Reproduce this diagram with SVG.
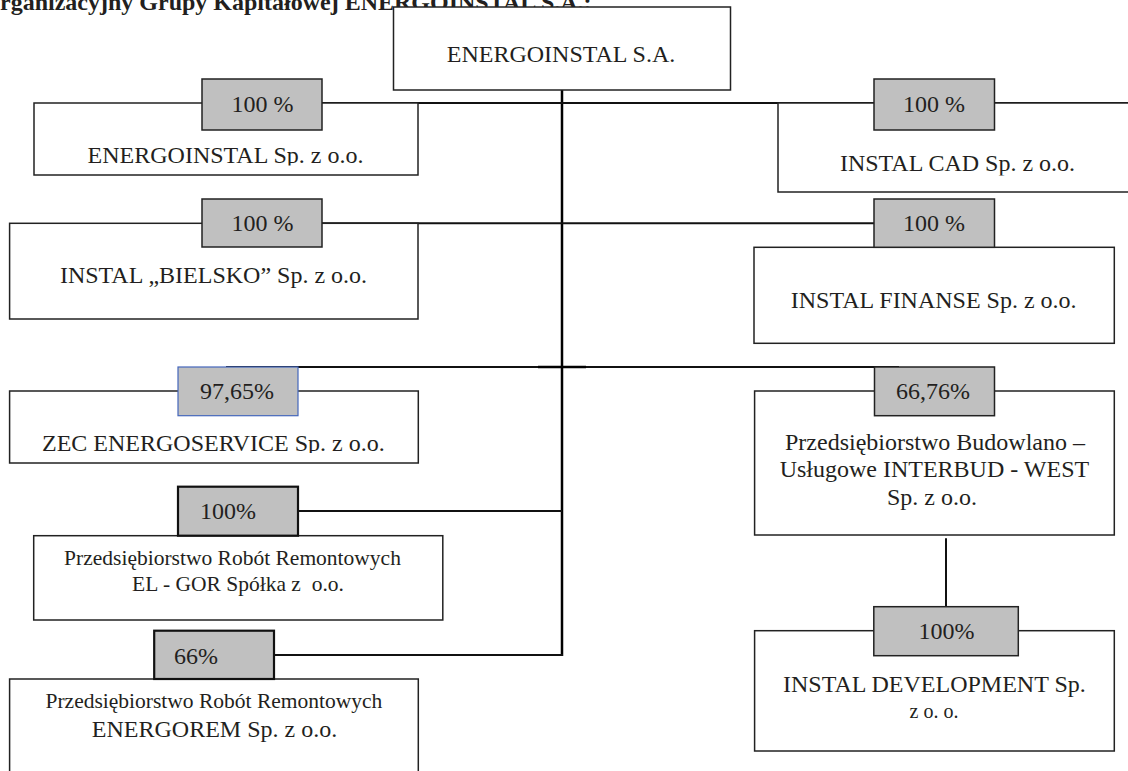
<svg xmlns="http://www.w3.org/2000/svg" width="1128" height="771" viewBox="0 0 1128 771">
<style>
  text { font-family: "Liberation Serif", "Times New Roman", serif; fill: #231f20; }
  .t24 { font-size: 24px; }
  .t22 { font-size: 21.5px; }
  .t20 { font-size: 20px; }
  .c { text-anchor: middle; }
  .title { font-size: 24px; font-weight: bold; }
  .box { fill: #ffffff; stroke: #222; stroke-width: 1.5; }
  .lab { fill: #c0c0c0; stroke: #222; stroke-width: 1.5; }
  .labB { fill: #c0c0c0; stroke: #4466bb; stroke-width: 1.2; }
  .labT { fill: #c0c0c0; stroke: #111; stroke-width: 2.2; }
  .ln { stroke: #111; stroke-width: 2; fill: none; }
  .lnT { stroke: #000; stroke-width: 2.5; fill: none; }
</style>
<defs>
  <clipPath id="clip1"><rect x="34" y="103" width="384" height="62.5"/></clipPath>
  <clipPath id="clip2"><rect x="778" y="103" width="350" height="72.5"/></clipPath>
  <clipPath id="clip3"><rect x="10" y="391" width="408" height="62"/></clipPath>
</defs>
<rect x="0" y="0" width="1128" height="771" fill="#ffffff"/>

<text class="title" x="0" y="10">rganizacyjny Grupy Kapitałowej ENERGOINSTAL S.A.:</text>

<g id="connectors">
  <line class="lnT" x1="562" y1="90" x2="562" y2="656"/>
  <line class="ln" x1="322" y1="103" x2="1128" y2="103"/>
  <line class="ln" x1="322" y1="223.3" x2="874" y2="223.3"/>
  <line class="ln" x1="226" y1="367" x2="899" y2="367"/>
  <line class="lnT" x1="538" y1="367" x2="586" y2="367"/>
  <line class="ln" x1="298" y1="511" x2="562" y2="511"/>
  <line class="ln" x1="274" y1="655" x2="563" y2="655"/>
  <line class="ln" x1="946" y1="538.3" x2="946" y2="610"/>
</g>

<g id="node-energoinstal-sa">
  <rect class="box" x="393.5" y="7" width="337" height="83"/>
  <text class="t24 c" x="561" y="62">ENERGOINSTAL S.A.</text>
</g>

<g id="node-energoinstal-spzoo">
  <rect class="box" x="34" y="103" width="384" height="72"/>
  <text class="t24 c" x="225.5" y="163" clip-path="url(#clip1)">ENERGOINSTAL Sp. z o.o.</text>
  <rect class="lab" x="202" y="79" width="120" height="51"/>
  <text class="t24 c" x="262.5" y="111.5">100 %</text>
</g>

<g id="node-instal-cad">
  <rect class="box" x="778" y="103" width="360" height="89"/>
  <text class="t24 c" x="957.5" y="170.7" clip-path="url(#clip2)">INSTAL CAD Sp. z o.o.</text>
  <rect class="lab" x="874" y="79" width="120.5" height="51"/>
  <text class="t24 c" x="934" y="111.5">100 %</text>
</g>

<g id="node-instal-bielsko">
  <rect class="box" x="9.6" y="223.3" width="408.4" height="95.7"/>
  <text class="t24 c" x="213.5" y="283.3">INSTAL „BIELSKO” Sp. z o.o.</text>
  <rect class="lab" x="202" y="199" width="120" height="48"/>
  <text class="t24 c" x="262.5" y="231">100 %</text>
</g>

<g id="node-instal-finanse">
  <rect class="box" x="754" y="247.3" width="360.3" height="96"/>
  <text class="t24 c" x="933.7" y="308">INSTAL FINANSE Sp. z o.o.</text>
  <rect class="lab" x="874" y="199" width="120.5" height="48.3"/>
  <text class="t24 c" x="934" y="231">100 %</text>
</g>

<g id="node-zec-energoservice">
  <rect class="box" x="9.6" y="391" width="408.7" height="72"/>
  <text class="t24 c" x="213.4" y="450.7" clip-path="url(#clip3)">ZEC ENERGOSERVICE Sp. z o.o.</text>
  <rect class="labB" x="178" y="367" width="120" height="48.7"/>
  <text class="t24 c" x="237" y="399">97,65%</text>
</g>

<g id="node-interbud-west">
  <rect class="box" x="754.6" y="391" width="359.7" height="144"/>
  <text class="t24 c" x="935" y="450">Przedsiębiorstwo Budowlano –</text>
  <text class="t24 c" x="934.4" y="476.7">Usługowe INTERBUD - WEST</text>
  <text class="t24 c" x="932" y="505">Sp. z o.o.</text>
  <rect class="lab" x="874.5" y="367" width="120" height="48.7"/>
  <text class="t24 c" x="933" y="399">66,76%</text>
</g>

<g id="node-el-gor">
  <rect class="box" x="33.7" y="535.7" width="409.1" height="84.3"/>
  <text class="t22 c" x="232.5" y="565">Przedsiębiorstwo Robót Remontowych</text>
  <text class="t22 c" x="238" y="591" xml:space="preserve">EL - GOR Spółka z  o.o.</text>
  <rect class="labT" x="178" y="486.7" width="120" height="49"/>
  <text class="t24" x="200" y="519">100%</text>
</g>

<g id="node-energorem">
  <rect class="box" x="9.6" y="679" width="408.7" height="100"/>
  <text class="t22 c" x="213.9" y="708.3">Przedsiębiorstwo Robót Remontowych</text>
  <text class="t24 c" x="214.5" y="736.7">ENERGOREM Sp. z o.o.</text>
  <rect class="labT" x="154.2" y="630.7" width="119.8" height="48.3"/>
  <text class="t24" x="174" y="664">66%</text>
</g>

<g id="node-instal-development">
  <rect class="box" x="754.6" y="630.7" width="359.7" height="120.3"/>
  <text class="t24 c" x="934.4" y="692.3">INSTAL DEVELOPMENT Sp.</text>
  <text class="t20 c" x="934" y="718.3">z o. o.</text>
  <rect class="lab" x="873.8" y="606.7" width="144.5" height="49"/>
  <text class="t24 c" x="946.4" y="639.3">100%</text>
</g>
</svg>
